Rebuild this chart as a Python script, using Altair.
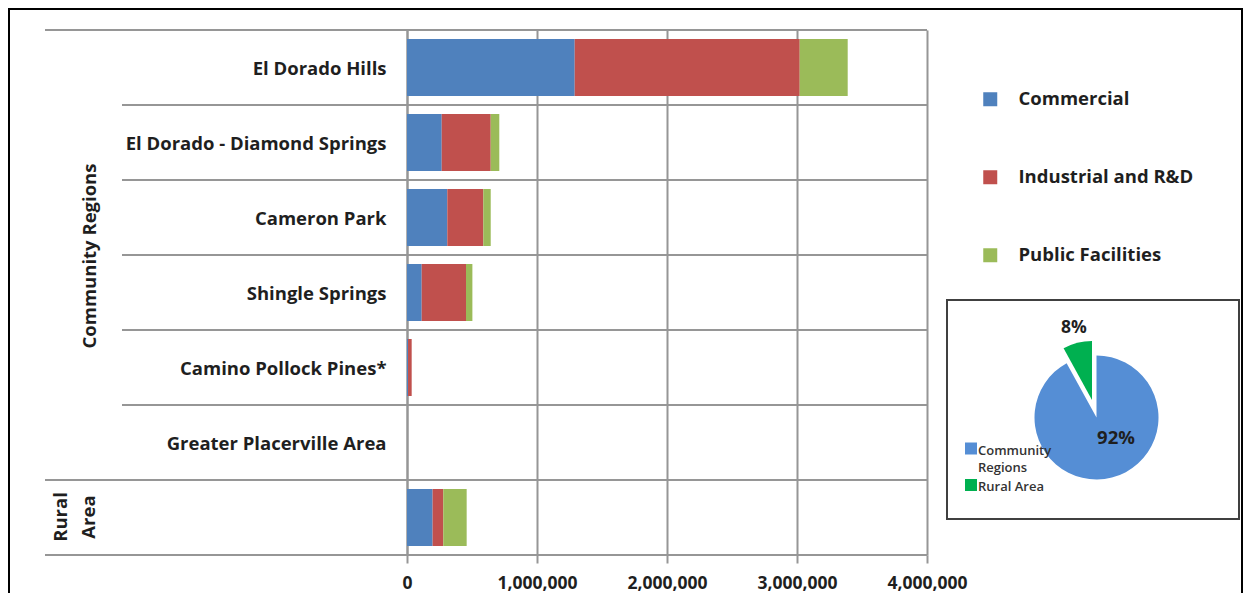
import math
import altair as alt
import pandas as pd

# ---------------- data ----------------
regions = [
    "El Dorado Hills",
    "El Dorado - Diamond Springs",
    "Cameron Park",
    "Shingle Springs",
    "Camino Pollock Pines*",
    "Greater Placerville Area",
    "Rural Area",
]
group_names = ["Community Regions", "Rural", "Area"]
series = ["Commercial", "Industrial and R&D", "Public Facilities"]
commercial = [1290000, 267000, 310000, 113000, 8000, 0, 197000]
industrial = [1731000, 377000, 277000, 341000, 28000, 0, 82000]
public = [369000, 66000, 57000, 49000, 0, 0, 180000]
series_colors = ["#4F81BD", "#C0504D", "#9BBB59"]
x_ticks = [0, 1000000, 2000000, 3000000, 4000000]

pie_labels = ["Community Regions", "Rural Area"]
pie_values = [92, 8]
pie_text = ["92%", "8%"]
pie_colors = ["#558ED5", "#00B050"]

# ---------------- style ----------------
FONT = "Open Sans"
TXT = "#1f1f1f"
GRID = "#969696"
FS = 18.5
W, H = 520, 525

rows = []
for i, r in enumerate(regions):
    for j, (s, vals) in enumerate(zip(series, [commercial, industrial, public])):
        rows.append({"region": r, "series": s, "order": j, "value": vals[i]})
bars_df = pd.DataFrame(rows)

bars = alt.Chart(bars_df).mark_bar().encode(
    x=alt.X(
        "value:Q",
        stack="zero",
        scale=alt.Scale(domain=[0, 4000000], nice=False),
        axis=alt.Axis(
            values=x_ticks, format=",.0f", title=None, grid=True, gridColor=GRID,
            gridWidth=2, domain=False, ticks=True, tickColor=GRID, tickWidth=2,
            tickSize=8, labelFontSize=17.5, labelFontWeight="bold", labelColor=TXT,
            labelFont=FONT, labelPadding=11, labelFlush=False, labelOverlap=False,
        ),
    ),
    y=alt.Y(
        "region:N",
        sort=regions,
        scale=alt.Scale(domain=regions, paddingInner=0.24, paddingOuter=0.12),
        axis=alt.Axis(
            title=None, ticks=False, domain=True, domainColor=GRID, domainWidth=2,
            labelFontSize=FS, labelFontWeight="bold", labelColor=TXT, labelFont=FONT,
            labelPadding=21, labelLimit=400, labelOffset=1.5,
            labelExpr="datum.value == 'Rural Area' ? '' : datum.value",
        ),
    ),
    color=alt.Color(
        "series:N",
        scale=alt.Scale(domain=series, range=series_colors),
        legend=alt.Legend(
            title=None, orient="none", legendX=574, legendY=60, direction="vertical",
            symbolType="square", symbolSize=196, symbolStrokeWidth=0,
            labelFontSize=FS, labelFontWeight="bold", labelColor=TXT, labelFont=FONT,
            labelOffset=19, rowPadding=59, padding=0, labelLimit=300,
        ),
    ),
    order=alt.Order("order:Q"),
)

sep_scale = alt.Scale(domain=regions, paddingInner=0, paddingOuter=0)

inner_sep = alt.Chart(pd.DataFrame({"region": regions[1:6]})).mark_rule(
    color=GRID, strokeWidth=2
).encode(
    y=alt.Y("region:N", sort=regions, scale=sep_scale, axis=None, bandPosition=0),
    x=alt.value(-285), x2=alt.value(W),
)
outer_sep = alt.Chart(pd.DataFrame({"region": [regions[0], regions[6]]})).mark_rule(
    color=GRID, strokeWidth=2
).encode(
    y=alt.Y("region:N", sort=regions, scale=sep_scale, axis=None, bandPosition=0),
    x=alt.value(-362), x2=alt.value(W),
)
bottom_sep = alt.Chart(pd.DataFrame({"region": [regions[6]]})).mark_rule(
    color=GRID, strokeWidth=2
).encode(
    y=alt.Y("region:N", sort=regions, scale=sep_scale, axis=None, bandPosition=1),
    x=alt.value(-362), x2=alt.value(W),
)

def group_text(label, x, y):
    return alt.Chart(pd.DataFrame({"t": [label]})).mark_text(
        angle=270, fontSize=FS, fontWeight="bold", font=FONT, color=TXT,
        align="center", baseline="middle",
    ).encode(text="t:N", x=alt.value(x), y=alt.value(y))

g1 = group_text(group_names[0], -317, 226)
g2 = group_text(group_names[1], -346, 487)
g3 = group_text(group_names[2], -318, 487)

# ---------------- pie ----------------
pie_df = pd.DataFrame({"label": pie_labels, "value": pie_values, "idx": [0, 1]})
pie_base = alt.Chart(pie_df).transform_window(
    cum="sum(value)", frame=[None, 0], sort=[alt.SortField("idx")]
).transform_calculate(start="datum.cum - datum.value")
theta_scale = alt.Scale(domain=[0, 100], range=[0, 2 * math.pi])

pie_blue = pie_base.transform_filter(alt.datum.label == pie_labels[0]).mark_arc(
    color=pie_colors[0], outerRadius=62
).encode(
    theta=alt.Theta("start:Q", scale=theta_scale, stack=None),
    theta2="cum:Q",
    x=alt.value(689.5), y=alt.value(387.5),
)
pie_green = pie_base.transform_filter(alt.datum.label == pie_labels[1]).mark_arc(
    color=pie_colors[1], outerRadius=59
).encode(
    theta=alt.Theta("start:Q", scale=theta_scale, stack=None),
    theta2="cum:Q",
    x=alt.value(685), y=alt.value(370),
)

def pct_text(label, x, y, size):
    return alt.Chart(pd.DataFrame({"t": [label]})).mark_text(
        fontSize=size, fontWeight="bold", font=FONT, color=TXT,
        align="center", baseline="middle",
    ).encode(text="t:N", x=alt.value(x), y=alt.value(y))

p1 = pct_text(pie_text[0], 709, 408, 18.5)
p2 = pct_text(pie_text[1], 667, 298, 17.5)

def sq(color, y):
    return alt.Chart(pd.DataFrame({"c": [color]})).mark_square(
        size=144, color=color, opacity=1
    ).encode(x=alt.value(564), y=alt.value(y))

s1 = sq(pie_colors[0], 418.5)
s2 = sq(pie_colors[1], 455)

leg1 = alt.Chart(pd.DataFrame({"t": [pie_labels[0]]})).mark_text(
    fontSize=13, font=FONT, fontWeight=600, color="#333333", align="left",
    baseline="middle", lineBreak=" ", lineHeight=17,
).encode(text="t:N", x=alt.value(571), y=alt.value(421))
leg2 = alt.Chart(pd.DataFrame({"t": [pie_labels[1]]})).mark_text(
    fontSize=13, font=FONT, fontWeight=600, color="#333333", align="left",
    baseline="middle",
).encode(text="t:N", x=alt.value(571), y=alt.value(457))

box = alt.Chart(pd.DataFrame({"a": [0]})).mark_rect(
    fillOpacity=0, stroke="#404040", strokeWidth=2
).encode(x=alt.value(540), x2=alt.value(832), y=alt.value(270), y2=alt.value(489))

frame = alt.Chart(pd.DataFrame({"a": [0]})).mark_rect(
    fillOpacity=0, stroke="#000000", strokeWidth=2
).encode(x=alt.value(-398), x2=alt.value(835), y=alt.value(-21), y2=alt.value(600))

chart = alt.layer(
    frame, inner_sep, outer_sep, bottom_sep, bars, g1, g2, g3,
    box, pie_blue, pie_green, p1, p2, s1, s2, leg1, leg2,
).resolve_scale(y="independent").properties(
    width=W, height=H,
    autosize=alt.AutoSizeParams(type="none"),
    padding={"left": 399, "top": 22, "right": 317, "bottom": 38},
).configure_view(stroke=None).configure(background="white")

chart.save("out.html", embed_options={"renderer": "svg", "actions": False})
